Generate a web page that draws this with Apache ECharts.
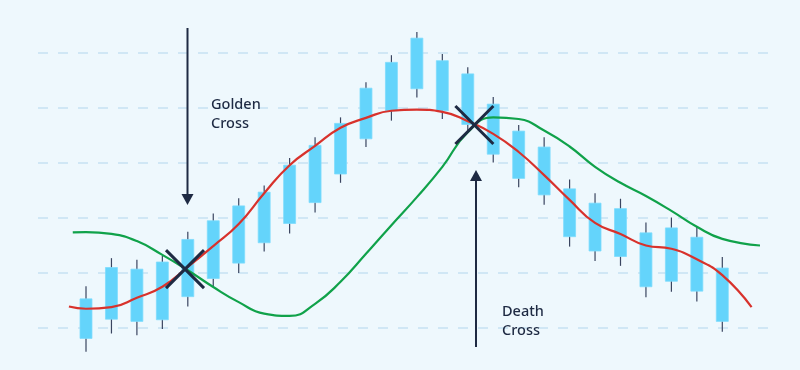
<!DOCTYPE html>
<html>
<head>
<meta charset="utf-8">
<script src="https://cdn.jsdelivr.net/npm/echarts@6/dist/echarts.min.js"></script>
<style>
html,body{margin:0;padding:0;background:#eef8fd;}
#main{width:800px;height:370px;}
</style>
</head>
<body>
<div id="main"></div>
<script>
// Candles: [open, close, low, high]
const candleOpen  = [8.1, 11.6, 11.2, 11.5, 15.7, 19.0, 21.8, 25.5, 29.0, 32.8, 38.0, 44.4, 49.5, 53.5, 49.5, 56.2, 50.7, 45.8, 42.9, 35.3, 32.7, 31.7, 27.3, 28.2, 26.5, 20.9];
const candleClose = [15.3, 21.0, 20.7, 22.0, 26.1, 29.5, 32.2, 34.7, 39.6, 43.2, 47.2, 53.6, 58.3, 62.7, 58.6, 47.0, 41.6, 37.2, 34.2, 26.6, 24.0, 23.0, 17.5, 18.5, 16.7, 11.2];
const candleLow   = [5.7, 9.0, 8.7, 9.8, 13.9, 17.6, 20.0, 23.9, 27.2, 31.0, 36.4, 42.9, 47.7, 51.9, 48.0, 45.9, 40.1, 35.6, 32.4, 24.8, 22.2, 21.3, 15.6, 16.6, 14.8, 9.3];
const candleHigh  = [17.6, 22.7, 22.4, 23.1, 27.5, 30.8, 33.6, 35.9, 40.9, 44.7, 48.3, 54.7, 59.6, 63.8, 59.8, 57.4, 52.0, 46.9, 44.7, 37.0, 34.5, 33.5, 29.2, 30.1, 28.4, 22.9];

// Fast moving average (red)
const fastX = [-0.67, 0, 1, 2, 3, 4, 5, 6, 7, 8, 9, 10, 11, 12, 13, 14, 15, 16, 17, 18, 19, 20, 21, 22, 23, 24, 25, 26.15];
const fastY = [13.9, 13.5, 13.8, 15.5, 17.5, 21.1, 24.9, 28.9, 34.5, 39.6, 43.1, 46.4, 48.2, 49.5, 49.7, 49.3, 47.6, 45.3, 42.0, 37.8, 33.3, 29.1, 27.1, 25.0, 24.4, 22.5, 19.6, 13.8];

// Slow moving average (green)
const slowX = [-0.52, 0, 1, 2, 3, 4, 5, 6, 7, 8, 9, 10, 11, 12, 13, 14, 15, 16, 17, 18, 19, 20, 21, 22, 23, 24, 25, 26.48];
const slowY = [27.4, 27.45, 27.1, 25.8, 23.3, 20.5, 17.45, 14.7, 12.6, 12.2, 14.4, 18.4, 23.5, 28.7, 33.8, 39.3, 45.6, 48.3, 48.0, 45.9, 43.0, 39.3, 36.4, 34.0, 31.3, 28.4, 26.2, 25.0];

// Cross points (index, value)
const crossX = [3.89, 15.26];
const crossY = [20.7, 46.9];

const chart = echarts.init(document.getElementById('main'), null, {renderer: 'canvas'});

const candleData = candleOpen.map((o, i) => [i, o, candleClose[i], candleLow[i], candleHigh[i]]);
const fastData = fastX.map((x, i) => [x, fastY[i]]);
const slowData = slowX.map((x, i) => [x, slowY[i]]);
const crossData = crossX.map((x, i) => [x, crossY[i]]);

const ink = '#1e2a43';
const font = '"Noto Sans", "Open Sans", Lato, sans-serif';

chart.setOption({
  backgroundColor: '#eef8fd',
  animation: false,
  grid: {left: 38, right: 30, top: -2, bottom: -13, containLabel: false, outerBoundsMode: 'none'},
  xAxis: {
    type: 'value', min: -1.886, max: 26.874,
    show: true, axisLine: {show: false}, axisTick: {show: false}, axisLabel: {show: false}, splitLine: {show: false}
  },
  yAxis: {
    type: 'value', min: 0, max: 70, interval: 10,
    axisLine: {show: false}, axisTick: {show: false}, axisLabel: {show: false},
    splitLine: {show: true, lineStyle: {color: '#c6e1f2', width: 1.5, type: [10, 10]}}
  },
  series: [
    {
      type: 'custom', z: 2,
      data: candleData,
      encode: {x: 0, y: [1, 2, 3, 4]},
      renderItem: function (params, api) {
        const x = api.value(0);
        const pO = api.coord([x, api.value(1)]);
        const pC = api.coord([x, api.value(2)]);
        const pL = api.coord([x, api.value(3)]);
        const pH = api.coord([x, api.value(4)]);
        const w = api.size([1, 0])[0] * 0.47;
        return {
          type: 'group',
          children: [
            {type: 'line', shape: {x1: pH[0], y1: pH[1], x2: pL[0], y2: pL[1]}, style: {stroke: '#3a4560', lineWidth: 1.2}},
            {type: 'rect', shape: {x: pO[0] - w / 2, y: Math.min(pO[1], pC[1]), width: w, height: Math.abs(pO[1] - pC[1])},
             style: {fill: '#64d4fb', stroke: '#7ddcfc', lineWidth: 0.8}}
          ]
        };
      }
    },
    {
      type: 'line', z: 3, data: slowData, smooth: 0.5, showSymbol: false,
      lineStyle: {color: '#10a24a', width: 2.2}
    },
    {
      type: 'line', z: 4, data: fastData, smooth: 0.5, showSymbol: false,
      lineStyle: {color: '#d8322c', width: 2.2}
    },
    {
      type: 'custom', z: 5, data: crossData,
      renderItem: function (params, api) {
        const p = api.coord([api.value(0), api.value(1)]);
        const r = 19;
        return {
          type: 'group',
          children: [
            {type: 'line', shape: {x1: p[0] - r, y1: p[1] - r, x2: p[0] + r, y2: p[1] + r}, style: {stroke: ink, lineWidth: 3}},
            {type: 'line', shape: {x1: p[0] - r, y1: p[1] + r, x2: p[0] + r, y2: p[1] - r}, style: {stroke: ink, lineWidth: 3}}
          ]
        };
      }
    }
  ],
  graphic: [
    {type: 'line', shape: {x1: 187.5, y1: 28, x2: 187.5, y2: 196}, style: {stroke: ink, lineWidth: 2}, z: 10},
    {type: 'polygon', shape: {points: [[181.5, 194], [193.5, 194], [187.5, 205]]}, style: {fill: ink}, z: 10},
    {type: 'line', shape: {x1: 476, y1: 178, x2: 476, y2: 347}, style: {stroke: ink, lineWidth: 2}, z: 10},
    {type: 'polygon', shape: {points: [[476, 170], [470, 181], [482, 181]]}, style: {fill: ink}, z: 10},
    {type: 'text', x: 211, y: 95, z: 10, style: {text: 'Golden\nCross', font: '500 14.5px ' + font, fill: ink, lineHeight: 19, textVerticalAlign: 'top'}},
    {type: 'text', x: 502, y: 302, z: 10, style: {text: 'Death\nCross', font: '500 14.5px ' + font, fill: ink, lineHeight: 19, textVerticalAlign: 'top'}}
  ]
});
</script>
</body>
</html>
